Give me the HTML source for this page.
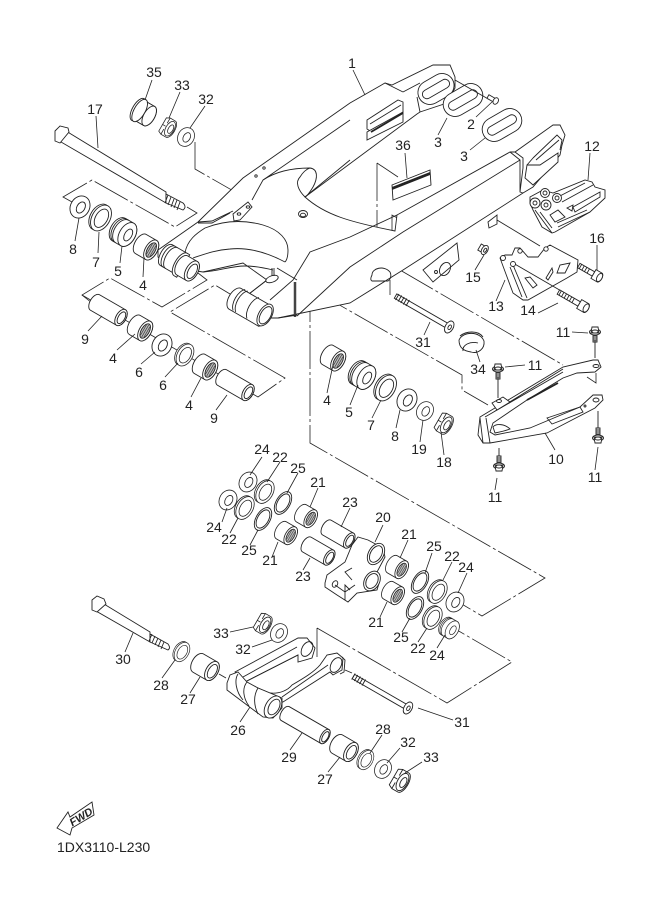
<!DOCTYPE html>
<html><head><meta charset="utf-8"><style>
html,body{margin:0;padding:0;background:#fff}
svg{display:block}
text{font-family:"Liberation Sans",sans-serif;font-size:14px;fill:#222;text-anchor:middle;stroke:none}
.s{fill:none;stroke:#222;stroke-width:.9}
.w{fill:#fff;stroke:#222;stroke-width:.9}
.l{fill:none;stroke:#222;stroke-width:.8}
.d{fill:none;stroke:#222;stroke-width:.8;stroke-dasharray:38 3 3 3}
</style></head><body>
<svg width="661" height="913" viewBox="0 0 661 913" xmlns="http://www.w3.org/2000/svg">
<defs>
<g id="washer"><ellipse class="w" rx="9.5" ry="11.5"/><ellipse class="s" cx="1" rx="4" ry="6"/></g>
<g id="ring"><ellipse class="w" rx="7" ry="12.5"/><ellipse class="s" rx="5.5" ry="10"/></g>
<g id="seal"><ellipse class="w" cx="-2" rx="9" ry="14"/><ellipse class="w" rx="9" ry="14"/><ellipse class="s" cx=".5" rx="6" ry="10"/></g>
<g id="race"><path class="w" d="M-5,-13H5A8,13 0 0 1 5,13H-5A8,13 0 0 1-5,-13Z"/><path class="s" d="M-3,-13A8,13 0 0 0-3,13M-1,-13A8,13 0 0 0-1,13"/><ellipse class="w" cx="5" rx="8" ry="13"/><ellipse class="s" cx="6" rx="3.6" ry="6.5"/></g>
<g id="bear"><path class="w" d="M-6,-11H6A6,11 0 0 1 6,11H-6A6,11 0 0 1-6,-11Z"/><ellipse class="w" cx="6" rx="6" ry="11"/><ellipse cx="6" rx="4" ry="8" fill="#bbb" stroke="#222" stroke-width=".9"/><path d="M4,-6V6M6,-7V7M8,-6V6" stroke="#333" stroke-width=".6"/></g>
<g id="spacer"><path class="w" d="M-8,-10.5H8A6,10.5 0 0 1 8,10.5H-8A6,10.5 0 0 1-8,-10.5Z"/><ellipse class="w" cx="8" rx="6" ry="10.5"/><ellipse class="s" cx="8.5" rx="4" ry="7.5"/></g>
<g id="tube36"><path class="w" d="M-15,-9H15A5,9 0 0 1 15,9H-15A5,9 0 0 1-15,-9Z"/><ellipse class="w" cx="15" rx="5" ry="9"/><ellipse class="s" cx="15.5" rx="3.3" ry="6.5"/></g>
<g id="tube30"><path class="w" d="M-13,-8.5H13A4.5,8.5 0 0 1 13,8.5H-13A4.5,8.5 0 0 1-13,-8.5Z"/><ellipse class="w" cx="13" rx="4.5" ry="8.5"/><ellipse class="s" cx="13.5" rx="3" ry="6.2"/></g>
<g id="tube48"><path class="w" d="M-23,-8H23A4,8 0 0 1 23,8H-23A4,8 0 0 1-23,-8Z"/><ellipse class="w" cx="23" rx="4" ry="8"/><ellipse class="s" cx="23.5" rx="2.7" ry="5.7"/></g>
<g id="nut"><path class="w" d="M-6,-9L-2,-11H5A5,11 0 0 1 5,11H-2L-6,9Z"/><path class="s" d="M-2,-11V-4M-2,4V11M-6,0H-2"/><ellipse class="w" cx="4" rx="5" ry="9.5"/><ellipse class="s" cx="5" rx="2.8" ry="5.5"/></g>
<g id="b11"><path class="w" d="M-2,-1.5V-9H2V-1.5Z"/><path class="s" d="M-2,-7H2M-2,-5H2M-2,-3H2"/><ellipse class="w" cy="1" rx="5.5" ry="3"/><path class="w" d="M-4,0L-3,6H3L4,0Z"/><ellipse class="w" cy="1.5" rx="3" ry="1.5"/></g>
</defs>

<!-- dash-dot guide lines -->
<g>
<path class="d" d="M195,142V169L284,220"/>
<path class="d" d="M72,202L63,197L92,180L175,227L197,213L187,207"/>
<path class="d" d="M92,303L82,295L110,278L162,307L207,280L198,273"/>
<path class="d" d="M82,295L258,397L285,378L170,312L215,285L240,300"/>
<path class="d" d="M273,267L462,375V390L488,405"/>
<path class="d" d="M310,237V443L545,578L482,616L460,603"/>
<path class="d" d="M310,237L376,273"/>
<path class="d" d="M400,270L563,365M587,377L596,383V373"/>
<path class="d" d="M377,163V257M368,260L376,263M377,163L398,177M392,230V215L401,220V270"/>
<path class="d" d="M317,628V657M317,628L447,703L512,662L457,630"/>
<path class="d" d="M390,280V295"/>
</g>

<!-- swingarm -->
<g>
<path class="w" d="M158,250L198,222L243,178L350,103L385,83L392,85L433,65L450,65L455,77V88L447,103L420,112L417,114L305,197C325,215 350,222 395,231L397,215L510,152L515,152L553,125L560,125L565,135L562,145L560,155L533,187L523,193L403,270L350,303L278,318L265,318L240,305L236,296L245,297L267,280L243,263L203,272L190,270L165,265L158,257Z"/>
<path class="s" d="M350,120L263,180L252,200M198,223L212,223L230,213M198,222L212,221L233,211M350,160L305,197"/>
<path class="s" d="M263,180C275,172 290,168 310,168C318,169 318,178 313,187C310,192 307,196 305,197C298,190 295,182 300,177C303,172 307,169 310,168"/>
<path class="s" d="M185,253C187,240 197,233 205,228C225,220 245,220 263,225C280,230 288,240 288,250C288,256 287,260 285,262"/>
<path class="s" d="M193,258C205,254 215,250 230,249C250,247 270,254 285,262"/>
<path class="s" d="M203,272C220,271 230,266 245,266C255,266 265,268 273,270"/>
<path class="s" d="M277,268L297,280M270,300L293,280L310,252L350,237L397,215M267,280L245,297"/>
<path d="M295,282V317" stroke="#444" stroke-width="2.5" fill="none"/>
<path class="s" d="M278,318L297,315"/>
<path class="s" d="M297,316L350,267L403,232L520,160"/>
<path class="w" d="M233,214L248,202L252,207L240,220L234,221Z"/>
<ellipse class="s" cx="239" cy="214" rx="1.8" ry="1.2"/><ellipse class="s" cx="248" cy="207" rx="1.8" ry="1.2"/>
<circle cx="256" cy="176" r="1.2" class="s"/><circle cx="264" cy="168" r="1.2" class="s"/>
<ellipse class="s" cx="303" cy="214" rx="4.5" ry="3.5"/><ellipse class="s" cx="303" cy="215" rx="2.5" ry="1.8"/>
<ellipse class="w" cx="272" cy="279" rx="6.5" ry="3.2" transform="rotate(-20 272 279)"/>
<path class="s" d="M272,268V276M274,268V276"/>
<!-- upper pivot -->
<g transform="translate(178,263) rotate(30)"><path class="w" d="M-14,-13H4V11H-14A6,12 0 0 1-14,-13Z"/><path class="s" d="M-11,-13A6,12 0 0 0-11,11M-8,-13A6,12 0 0 0-8,11"/><path class="w" d="M3,-13A6,13 0 0 0 3,13L6,13V-13Z"/><path class="w" d="M5,-11H16A6,11 0 0 1 16,11H5A6,11 0 0 1 5,-11Z"/><ellipse class="w" cx="16" rx="6" ry="11"/><ellipse class="s" cx="16.5" rx="4" ry="8"/></g>
<!-- lower pivot -->
<g transform="translate(253,308) rotate(30)"><path class="w" d="M-20,-11H14A7,13 0 0 1 14,13H-20A6,11 0 0 1-20,-11Z"/><path class="s" d="M-16,-12A7,13 0 0 0-16,12M-13,-12A7,13 0 0 0-13,12M0,-12A7,13 0 0 0 0,12"/><ellipse class="w" cx="14" rx="6.5" ry="12"/><ellipse class="s" cx="14.5" rx="5" ry="9.5"/></g>
<!-- upper arm end -->
<path class="s" d="M403,92L420,83M417,97L420,112M403,92L385,83"/>
<g transform="translate(436,89) rotate(-30)"><rect class="w" x="-19" y="-12" width="38" height="24" rx="12"/><rect class="s" x="-15" y="-4.5" width="30" height="9" rx="4.5"/></g>
<path class="w" d="M367,120L398,100L403,102V112L372,132L367,129Z"/><path class="w" d="M367,132L403,112V122L367,140Z"/><path d="M371,132L403,113" stroke="#222" stroke-width="1.8" fill="none"/><path class="s" d="M370,124L401,105"/>
<!-- lower arm end -->
<path class="s" d="M515,152L523,158V168L520,192L523,193M510,152L520,160L520,192"/>
<path class="w" d="M527,165L525,178L533,185L558,162V153L540,165Z"/>
<path class="s" d="M533,158L557,135L562,140L560,150M536,160L559,140M527,165L533,158"/>
<!-- tab bracket -->
<path class="w" d="M423,270L457,243L459,260L433,282Z"/>
<ellipse class="s" cx="445" cy="269" rx="5" ry="7" transform="rotate(30 445 269)"/><circle class="s" cx="436" cy="272" r="1.5"/>
<path class="w" d="M488,222L497,215V224L489,228Z"/>
<path class="s" d="M497,220L540,246"/>
<path class="s" d="M372,275C372,268 384,265 390,272C392,276 390,280 388,281L372,281C370,280 371,277 372,275Z"/>
</g>

<!-- part 36 -->
<path class="w" d="M392,185L430,170L431,185L393,200Z"/>
<path d="M392,187L430,172V175L392,190Z" fill="#222"/>

<!-- 3 plates and bolt 2 -->
<g transform="translate(463,100) rotate(-30)"><rect class="w" x="-21" y="-12" width="42" height="24" rx="12"/><rect class="s" x="-16" y="-4.5" width="32" height="9" rx="4.5"/></g>
<g transform="translate(502,125) rotate(-30)"><rect class="w" x="-21" y="-12" width="42" height="24" rx="12"/><rect class="s" x="-16" y="-4.5" width="32" height="9" rx="4.5"/></g>
<path class="s" d="M455,80L490,100"/>
<g transform="translate(494,100) rotate(30)"><path class="w" d="M-7,-2H1V2H-7Z"/><ellipse class="w" cx="2" rx="2.5" ry="3.5"/></g>

<!-- part 12 -->
<path class="w" d="M530,197L543,190L553,193L585,180L592,182L595,187L605,190V198L590,212L555,232L552,233L542,227L533,210L530,203Z"/>
<path class="s" d="M558,197L585,183M562,202L593,185M573,207L600,192L600,197L575,212L573,207M557,223L587,210M558,227L590,212M535,210L552,233M540,212L552,228"/>
<path class="s" d="M550,215L558,210L565,217L555,222Z"/>
<path class="s" d="M567,208L573,205L572,211Z"/>
<circle class="w" cx="535" cy="203" r="5"/><circle class="s" cx="535" cy="203" r="2"/>
<circle class="w" cx="545" cy="193" r="4.5"/><circle class="s" cx="545" cy="193" r="2"/>
<circle class="w" cx="557" cy="198" r="4.5"/><circle class="s" cx="557" cy="198" r="2"/>
<circle class="w" cx="546" cy="205" r="5"/><circle class="s" cx="546" cy="205" r="2"/>

<!-- part 13 -->
<path class="w" d="M500,258L505,255L512,255L515,248L520,248L528,257L538,257L545,248L550,245L578,260L577,272L567,278L528,300L523,300L513,293Z"/>
<path class="s" d="M510,267L522,297M513,265L527,298"/>
<path class="s" d="M525,278L533,288L537,285L530,277Z"/>
<path class="s" d="M546,278L552,268L553,272L548,280Z"/>
<path class="s" d="M557,273L560,265L570,263L565,273Z"/>
<path class="s" d="M513,263L563,292"/>
<circle class="w" cx="503" cy="258" r="2.5"/><circle class="w" cx="513" cy="264" r="2.5"/><circle class="w" cx="520" cy="251" r="2.2"/><circle class="w" cx="546" cy="249" r="2.2"/>
<!-- 14,15,16 -->
<g transform="translate(574,301) rotate(30)"><path class="w" d="M-18,-2.5H6V2.5H-18Z"/><path class="s" d="M-16,-2.5V2.5M-13,-2.5V2.5M-10,-2.5V2.5M-7,-2.5V2.5M-4,-2.5V2.5M-1,-2.5V2.5"/><path class="w" d="M6,-5H14A2.5,5 0 0 1 14,5H6Z"/><ellipse class="w" cx="14" rx="2.5" ry="4.5"/></g>
<g transform="translate(590,272) rotate(30)"><path class="w" d="M-13,-2.5H4V2.5H-13Z"/><path class="s" d="M-11,-2.5V2.5M-8,-2.5V2.5M-5,-2.5V2.5M-2,-2.5V2.5"/><path class="w" d="M4,-5H11A2.5,5 0 0 1 11,5H4Z"/><ellipse class="w" cx="11" rx="2.5" ry="4.5"/></g>
<g transform="translate(483,249) rotate(30)"><path class="w" d="M-4,-3.5H2V3.5H-4Z"/><ellipse class="w" cx="2" rx="3" ry="5"/><ellipse class="s" cx="2.5" rx="1.2" ry="2.2"/></g>

<!-- bolt 17 -->
<path class="w" d="M66,131L166,192L166,203L61,142Z"/>
<path class="w" d="M55,131L60,126L68,128L69,132L60,143L55,141Z"/>
<path class="w" d="M166,194L183,203Q187,207 183,210L166,203Z"/>
<path class="s" d="M168,195L165,203M171,197L168,205M174,199L171,207M177,200L174,208M180,202L177,210"/>

<!-- top row -->
<g transform="translate(144,113) rotate(30)"><path class="w" d="M-5,-11H6A5.5,11 0 0 1 6,11H-5A5.5,11 0 0 1-5,-11Z"/><ellipse class="w" cx="-7" rx="5.5" ry="12.5"/><ellipse class="w" cx="-5" rx="5.5" ry="12.5"/><path class="w" d="M-3,-11H6V11H-3A5.5,11 0 0 0-3,-11Z" style="stroke:none"/><path class="s" d="M-3,-11H6M-3,11H6"/><ellipse class="w" cx="6" rx="5.5" ry="11"/></g>
<use href="#nut" transform="translate(167,127) rotate(30) scale(.85)"/>
<use href="#washer" transform="translate(186,137) rotate(30) scale(.85)"/>

<!-- row 1 -->
<use href="#washer" transform="translate(80,207) rotate(30)"/>
<use href="#seal" transform="translate(101,218) rotate(30)"/>
<use href="#race" transform="translate(123,232) rotate(30)"/>
<use href="#bear" transform="translate(146,247) rotate(30)"/>

<!-- row 3 -->
<use href="#tube36" transform="translate(108,310) rotate(30)"/>
<use href="#bear" transform="translate(140,328) rotate(30)"/>
<use href="#washer" transform="translate(162,345) rotate(30)"/>
<use href="#seal" transform="translate(185,355) rotate(30) scale(.85)"/>
<use href="#bear" transform="translate(205,367) rotate(30)"/>
<use href="#tube36" transform="translate(235,385) rotate(30)"/>

<!-- bolt 31 top -->
<g transform="translate(425,313) rotate(30)"><path class="w" d="M-34,-2.5H28V2.5H-34Z"/><path class="s" d="M-32,-3.5V3.5M-29,-3.5V3.5M-26,-3.5V3.5M-23,-3.5V3.5M-20,-3.5V3.5"/><ellipse class="w" cx="28" rx="4" ry="6.5"/><ellipse class="s" cx="28.5" rx="1.5" ry="2.5"/></g>
<!-- 34 -->
<path class="w" d="M459,340C463,331 480,331 484,341C485,349 478,354 471,352C465,351 459,349 459,340Z"/>
<path class="s" d="M460,336C466,331 478,330 483,337M463,351C462,345 470,341 478,343"/>

<!-- row 2 -->
<use href="#bear" transform="translate(333,358) rotate(30)"/>
<use href="#race" transform="translate(362,375) rotate(30)"/>
<use href="#seal" transform="translate(386,388) rotate(30)"/>
<use href="#washer" transform="translate(407,400) rotate(30)"/>
<use href="#washer" transform="translate(425,411) rotate(30) scale(.85)"/>
<use href="#nut" transform="translate(443,423) rotate(30) scale(.92)"/>

<!-- part 10 -->
<path class="w" d="M480,417L563,367L593,360L598,360L601,367L595,372L577,373L563,378L527,400L493,423L490,432L495,435L530,428L580,407L593,395L602,395L603,400L595,408L547,433L490,443L483,443L478,435Z"/>
<path class="s" d="M485,417L563,372M492,413L563,369M486,418L490,443M480,418L483,443"/>
<path d="M527,400L558,383" stroke="#222" stroke-width="1.8" fill="none"/>
<path class="s" d="M547,418L580,407L583,412L552,424Z"/>
<path class="w" d="M493,427C496,423 505,424 510,429C505,431 500,432 495,433Z"/>
<ellipse class="s" cx="596" cy="366" rx="3" ry="1.5"/><ellipse class="s" cx="596" cy="400" rx="3" ry="2"/><circle class="s" cx="585" cy="406" r="1"/>
<path class="w" d="M492,403L503,397L510,402L497,410Z"/><ellipse class="s" cx="499" cy="401" rx="2.5" ry="1.5"/>
<use href="#b11" transform="translate(595,333) scale(1,-1)"/>
<use href="#b11" transform="translate(498,370) scale(1,-1)"/>
<use href="#b11" transform="translate(499,465)"/>
<use href="#b11" transform="translate(598,437)"/>
<path class="s" d="M595,340V358M498,377V398M499,448V456M598,411V428"/>

<!-- group around 20 -->
<use href="#washer" transform="translate(248,482) rotate(30) scale(.9)"/>
<use href="#washer" transform="translate(228,500) rotate(30) scale(.9)"/>
<use href="#seal" transform="translate(265,492) rotate(30) scale(.88)"/>
<use href="#seal" transform="translate(245,508) rotate(30) scale(.88)"/>
<use href="#ring" transform="translate(283,503) rotate(30)"/>
<use href="#ring" transform="translate(263,519) rotate(30)"/>
<use href="#bear" transform="translate(306,516) rotate(30) scale(.9)"/>
<use href="#bear" transform="translate(286,533) rotate(30) scale(.9)"/>
<use href="#tube30" transform="translate(338,534) rotate(30)"/>
<use href="#tube30" transform="translate(318,551) rotate(30)"/>
<!-- part 20 -->
<path class="w" d="M325,583L327,575L345,562L352,545L358,537L368,540L383,548L385,557L377,572L380,580L377,590L357,593L348,602L337,595L325,587Z"/>
<ellipse class="w" cx="376" cy="554" rx="7.5" ry="11.5" transform="rotate(30 376 554)"/><ellipse class="s" cx="376" cy="554" rx="5.5" ry="9" transform="rotate(30 376 554)"/>
<ellipse class="w" cx="372" cy="581" rx="7.5" ry="10.5" transform="rotate(30 372 581)"/><ellipse class="s" cx="372" cy="581" rx="5.5" ry="8" transform="rotate(30 372 581)"/>
<path class="s" d="M352,580L345,572L352,568M335,585L345,592L355,585M345,600V585L350,590"/>
<ellipse class="s" cx="335" cy="584" rx="2.5" ry="3.5" transform="rotate(30 335 584)"/>

<use href="#bear" transform="translate(397,567) rotate(30) scale(.9)"/>
<use href="#bear" transform="translate(393,593) rotate(30) scale(.9)"/>
<use href="#ring" transform="translate(420,582) rotate(30)"/>
<use href="#ring" transform="translate(415,608) rotate(30)"/>
<use href="#seal" transform="translate(438,592) rotate(30) scale(.88)"/>
<use href="#seal" transform="translate(433,618) rotate(30) scale(.88)"/>
<use href="#washer" transform="translate(455,602) rotate(30) scale(.9)"/>
<use href="#race" transform="translate(449,628) rotate(30) scale(.75)"/>

<!-- lower group -->
<use href="#nut" transform="translate(262,623) rotate(30) scale(.9)"/>
<use href="#washer" transform="translate(279,633) rotate(30) scale(.85)"/>
<!-- bolt 30 -->
<path class="w" d="M99,601L150,632L150,642L96,611Z"/>
<path class="w" d="M92,600L97,596L104,599L106,604L97,612L92,610Z"/>
<path class="w" d="M150,634L168,644Q171,648 168,650L150,642Z"/>
<path class="s" d="M152,634L149,641M155,636L152,643M158,638L155,645M161,640L158,647M164,642L161,649"/>
<use href="#seal" transform="translate(182,652) rotate(30) scale(.75)"/>
<use href="#spacer" transform="translate(205,667) rotate(30)"/>
<path class="s" d="M219,674L226,678"/>

<!-- part 26 -->
<path class="w" d="M235,672L298,638L307,638L315,648L312,658L298,662L298,655L245,682Z"/>
<path class="s" d="M243,677L297,647M245,682L298,655"/>
<ellipse class="s" cx="307" cy="649" rx="5" ry="8" transform="rotate(30 307 649)"/>
<path class="w" d="M258,688L270,693C280,694 288,690 292,685C304,678 314,672 320,665L327,655L337,653L343,658L342,670L333,675L330,672L283,702L270,705Z"/>
<path class="s" d="M282,697L328,665"/>
<ellipse class="s" cx="336" cy="665" rx="5" ry="8" transform="rotate(30 336 665)"/>
<path class="s" d="M342,657L345,660L344,672L340,674"/>
<path class="w" d="M227,683L230,675L238,672L247,682L258,688L270,693L275,695L282,698L282,708L273,718L263,717L227,690Z"/>
<path class="s" d="M238,674C234,680 236,692 243,700M247,682C242,688 243,698 249,706M258,688C253,696 254,706 258,714"/>
<ellipse class="w" cx="273" cy="707" rx="7.5" ry="12" transform="rotate(30 273 707)"/>
<ellipse class="s" cx="274" cy="707" rx="5" ry="8.5" transform="rotate(30 274 707)"/>
<!-- bolt 31 lower -->
<path class="s" d="M345,670L352,673"/>
<g transform="translate(382,693) rotate(30)"><path class="w" d="M-33,-2.5H30V2.5H-33Z"/><path class="s" d="M-33,-3.5V3.5M-30,-3.5V3.5M-27,-3.5V3.5M-24,-3.5V3.5M-21,-3.5V3.5"/><ellipse class="w" cx="30" rx="4" ry="6.5"/><ellipse class="s" cx="30.5" rx="1.5" ry="2.5"/></g>
<use href="#tube48" transform="translate(305,725) rotate(30)"/>
<use href="#spacer" transform="translate(344,748) rotate(30)"/>
<use href="#seal" transform="translate(366,760) rotate(30) scale(.75)"/>
<use href="#washer" transform="translate(383,769) rotate(30) scale(.85)"/>
<use href="#nut" transform="translate(399,780) rotate(30)"/>

<!-- FWD -->
<path class="w" d="M57,828L68,812L70,817L92,802L94,815L72,828L70,835Z"/>
<text transform="translate(83,820) rotate(-32)" style="font-size:11px;font-weight:bold;font-style:italic">FWD</text>
<text x="57" y="852" style="text-anchor:start">1DX3110-L230</text>

<!-- leaders -->
<path class="l" d="M152,80L145,100M180,92L169,118M205,106L190,128M96,116L98,148M75,241L79,218M98,253L99,232M120,263L122,246M143,277L144,258M88,331L102,316M117,350L135,334M141,364L155,352M165,377L178,363M191,397L201,378M216,410L227,395M353,70L365,95M438,135L447,118M476,117L492,102M470,150L485,138M405,153L407,178M590,153L588,180M597,245L597,270M475,270L484,255M496,301L505,280M538,313L558,303M572,332L588,333M424,335L430,322M480,362L476,350M525,365L505,367M327,393L333,365M350,405L358,385M372,418L381,400M396,428L400,410M420,442L423,420M444,455L441,432M555,450L545,433M495,490L497,478M595,470L598,447M262,457L250,475M280,462L267,482M298,473L287,493M318,488L310,507M350,508L341,527M383,525L375,542M408,540L400,558M432,553L425,573M452,562L443,580M467,573L458,593M222,522L227,508M230,533L238,518M250,545L258,530M272,557L278,542M303,570L310,558M380,617L387,602M402,632L410,618M418,642L427,628M437,648L445,635M230,632L253,627M252,647L272,640M125,652L133,633M162,678L175,660M190,693L200,677M240,722L250,707M290,750L302,733M328,772L340,757M382,735L370,753M400,748L387,763M422,762L405,773M418,708L453,720"/>

<!-- labels -->
<text x="154" y="77">35</text><text x="182" y="90">33</text><text x="206" y="104">32</text><text x="95" y="114">17</text>
<text x="352" y="68">1</text><text x="438" y="147">3</text><text x="471" y="129">2</text><text x="464" y="161">3</text><text x="403" y="150">36</text>
<text x="592" y="151">12</text><text x="597" y="243">16</text><text x="473" y="282">15</text><text x="496" y="311">13</text><text x="528" y="315">14</text>
<text x="563" y="337">11</text><text x="423" y="347">31</text><text x="478" y="374">34</text><text x="535" y="370">11</text>
<text x="327" y="405">4</text><text x="349" y="417">5</text><text x="371" y="430">7</text><text x="395" y="441">8</text><text x="419" y="454">19</text><text x="444" y="467">18</text>
<text x="556" y="464">10</text><text x="495" y="502">11</text><text x="595" y="482">11</text>
<text x="73" y="254">8</text><text x="96" y="267">7</text><text x="118" y="276">5</text><text x="143" y="290">4</text>
<text x="85" y="344">9</text><text x="113" y="363">4</text><text x="139" y="377">6</text><text x="163" y="390">6</text><text x="189" y="410">4</text><text x="214" y="423">9</text>
<text x="262" y="454">24</text><text x="280" y="462">22</text><text x="298" y="473">25</text><text x="318" y="487">21</text><text x="350" y="507">23</text><text x="383" y="522">20</text><text x="409" y="539">21</text><text x="434" y="551">25</text><text x="452" y="561">22</text><text x="466" y="572">24</text>
<text x="214" y="532">24</text><text x="229" y="544">22</text><text x="249" y="555">25</text><text x="270" y="565">21</text><text x="303" y="581">23</text>
<text x="376" y="627">21</text><text x="401" y="642">25</text><text x="418" y="653">22</text><text x="437" y="660">24</text>
<text x="221" y="638">33</text><text x="243" y="654">32</text><text x="123" y="664">30</text><text x="161" y="690">28</text><text x="188" y="704">27</text><text x="238" y="735">26</text><text x="289" y="762">29</text><text x="462" y="727">31</text><text x="383" y="734">28</text><text x="408" y="747">32</text><text x="431" y="762">33</text><text x="325" y="784">27</text>
</svg>
</body></html>
